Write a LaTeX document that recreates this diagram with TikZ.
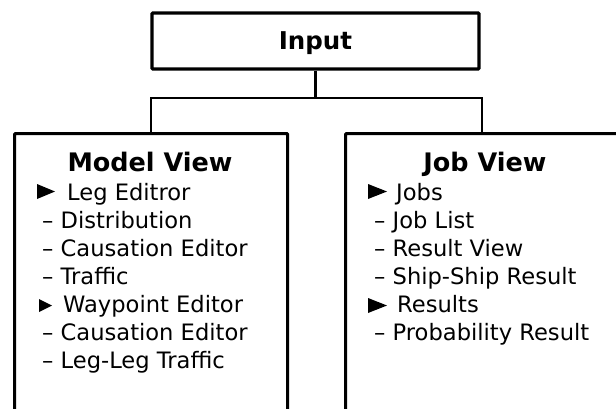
\documentclass[tikz,border=0pt]{standalone}
\usepackage{fontspec}
\setmainfont{DejaVu Sans}
\begin{document}
\begin{tikzpicture}[x=1pt,y=1pt,
  box/.style={draw=black, line width=3.2pt, rounded corners=1pt, fill=white, inner sep=0pt},
  conn/.style={draw=black, line width=2.4pt},
  title/.style={font=\bfseries\fontsize{25.5}{30}\selectfont, inner sep=0pt, anchor=base},
  item/.style={font=\fontsize{22.6}{26}\selectfont, inner sep=0pt, anchor=base west},
  bullet/.style={fill=black}]
\clip (0,0) rectangle (616,-408);
\fill[white] (0,0) rectangle (616,-408);

% top box
\node[box, minimum width=327, minimum height=56] (input) at (315.5,-41) {};
\node[font=\bfseries\fontsize{24.5}{28}\selectfont, inner sep=0pt, anchor=base] (inputlbl) at (315.5,-49) {Input};

% the two view boxes (bottom edges lie below the page)
\node[box, minimum width=273, minimum height=300, anchor=north west] (model) at (13,-132) {};
\node[box, minimum width=273, minimum height=300, anchor=north west] (job) at (344,-132) {};

% connectors
\coordinate (split) at (315.5,-98);
\draw[conn] (input.south) -- (split);
\draw[conn] (split) -| (model.north);
\draw[conn] (split) -| (job.north);

% Model View contents
\node[title] (mtitle) at (150,-171) {Model View};
\fill[bullet] (37,-184) -- (55,-191.5) -- (37,-199) -- cycle;
\node[item] (m1) at (67,-200) {Leg Editror};
\node[item] (m2) at (42,-228) {– Distribution};
\node[item] (m3) at (42,-256) {– Causation Editor};
\node[item] (m4) at (42,-284) {– Traffic};
\fill[bullet] (39,-299) -- (52,-305.5) -- (39,-312) -- cycle;
\node[item] (m5) at (63,-312) {Waypoint Editor};
\node[item] (m6) at (42,-340) {– Causation Editor};
\node[item] (m7) at (42,-368) {– Leg-Leg Traffic};

% Job View contents
\node[title] (jtitle) at (485,-171) {Job View};
\fill[bullet] (368,-184) -- (387,-191.5) -- (368,-199) -- cycle;
\node[item] (j1) at (396,-200) {Jobs};
\node[item] (j2) at (374,-228) {– Job List};
\node[item] (j3) at (374,-256) {– Result View};
\node[item] (j4) at (374,-284) {– Ship-Ship Result};
\fill[bullet] (368,-298) -- (387,-305.5) -- (368,-313) -- cycle;
\node[item] (j5) at (397,-312) {Results};
\node[item] (j6) at (374,-340) {– Probability Result};
\end{tikzpicture}
\end{document}
